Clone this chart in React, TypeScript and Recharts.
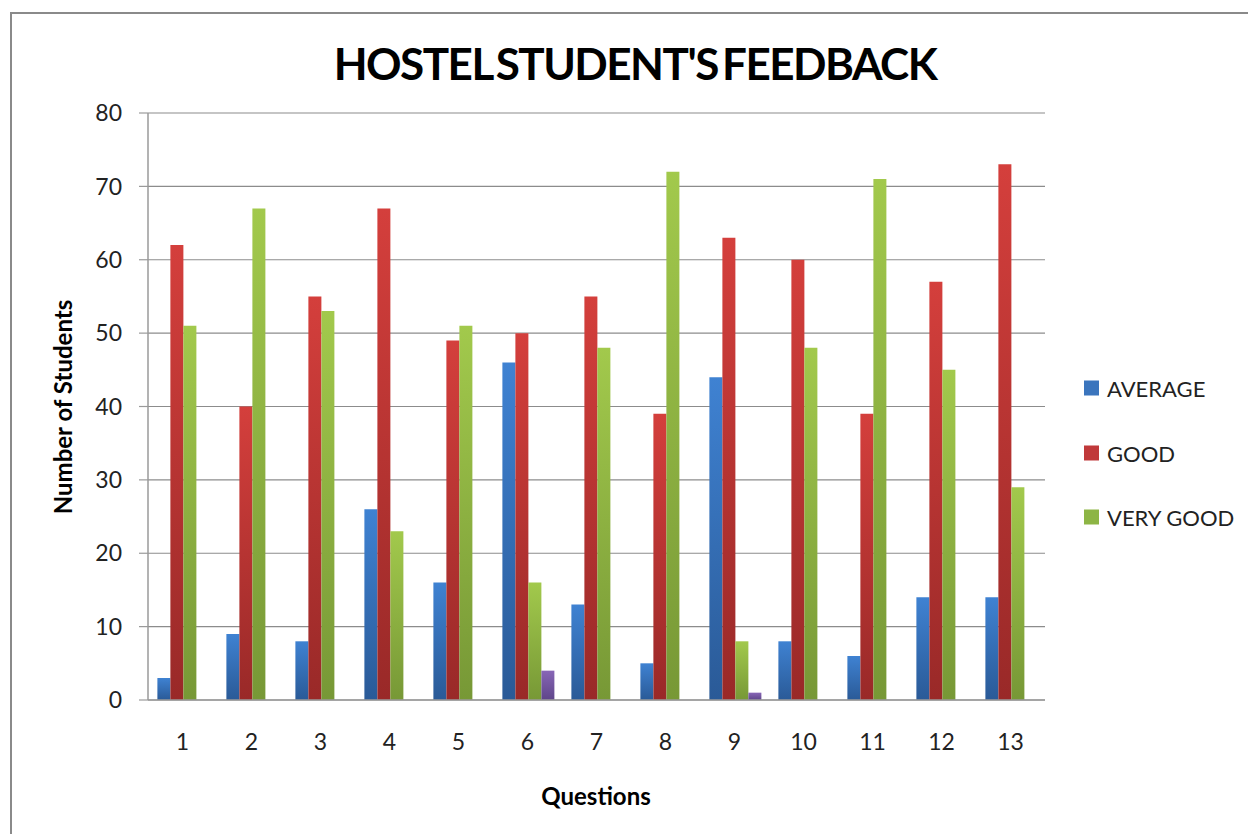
import React from 'react';
import { BarChart, Bar, XAxis, YAxis, CartesianGrid } from 'recharts';

const questions = ['1', '2', '3', '4', '5', '6', '7', '8', '9', '10', '11', '12', '13'];
const average = [3, 9, 8, 26, 16, 46, 13, 5, 44, 8, 6, 14, 14];
const good = [62, 40, 55, 67, 49, 50, 55, 39, 63, 60, 39, 57, 73];
const veryGood = [51, 67, 53, 23, 51, 16, 48, 72, 8, 48, 71, 45, 29];
const poor = [0, 0, 0, 0, 0, 4, 0, 0, 1, 0, 0, 0, 0];
const yTicks = [0, 10, 20, 30, 40, 50, 60, 70, 80];
const legendNames = ['AVERAGE', 'GOOD', 'VERY GOOD'];
const legendColors = ['#3b75bd', '#c0393a', '#8db545'];

const data = questions.map((q, i) => ({
  q,
  AVERAGE: average[i],
  GOOD: good[i],
  'VERY GOOD': veryGood[i],
  POOR: poor[i],
}));

const FONT = 'Lato, "Open Sans", sans-serif';

export default function App() {
  return (
    <div style={{ position: 'absolute', left: 0, top: 0, width: 1248, height: 834, background: '#fff', overflow: 'hidden' }}>
      <div
        style={{
          position: 'absolute',
          left: 10,
          top: 12,
          width: 1260,
          height: 840,
          border: '2px solid #8a8a8a',
          boxSizing: 'border-box',
        }}
      />
      <div
        style={{
          position: 'absolute',
          left: 0,
          width: 1270,
          top: 37,
          textAlign: 'center',
          fontFamily: FONT,
          fontWeight: 700,
          fontSize: 44,
          letterSpacing: -1.5,
          wordSpacing: -5,
          color: '#000',
        }}
      >
        HOSTEL STUDENT'S FEEDBACK
      </div>
      <div
        style={{
          position: 'absolute',
          left: 62,
          top: 407,
          transform: 'translate(-50%, -50%) rotate(-90deg)',
          whiteSpace: 'nowrap',
          fontFamily: FONT,
          fontWeight: 700,
          fontSize: 24,
          color: '#000',
        }}
      >
        Number of Students
      </div>
      <div
        style={{
          position: 'absolute',
          left: 596,
          top: 795,
          transform: 'translate(-50%, -50%)',
          whiteSpace: 'nowrap',
          fontFamily: FONT,
          fontWeight: 700,
          fontSize: 24,
          color: '#000',
        }}
      >
        Questions
      </div>
      <div style={{ position: 'absolute', left: 1084, top: 0, fontFamily: FONT, fontSize: 22, color: '#222' }}>
        {legendNames.map((name, i) => (
          <div
            key={name}
            style={{ position: 'absolute', left: 0, top: 388 + i * 64.5, transform: 'translateY(-50%)', display: 'flex', alignItems: 'center', whiteSpace: 'nowrap' }}
          >
            <div style={{ width: 15, height: 15, background: legendColors[i], marginRight: 8 }} />
            <span>{name}</span>
          </div>
        ))}
      </div>
      <div style={{ position: 'absolute', left: 0, top: 0 }}>
        <BarChart
          width={1248}
          height={834}
          data={data}
          margin={{ top: 113, right: 203, bottom: 74, left: 68 }}
          barCategoryGap="13.6%"
          barGap={0}
        >
          <defs>
            <linearGradient id="gBlue" x1="0" y1="0" x2="0" y2="1">
              <stop offset="0%" stopColor="#3f82d2" />
              <stop offset="100%" stopColor="#2a5a97" />
            </linearGradient>
            <linearGradient id="gRed" x1="0" y1="0" x2="0" y2="1">
              <stop offset="0%" stopColor="#d43f3c" />
              <stop offset="100%" stopColor="#992928" />
            </linearGradient>
            <linearGradient id="gGreen" x1="0" y1="0" x2="0" y2="1">
              <stop offset="0%" stopColor="#a2c94c" />
              <stop offset="100%" stopColor="#779836" />
            </linearGradient>
            <linearGradient id="gPurple" x1="0" y1="0" x2="0" y2="1">
              <stop offset="0%" stopColor="#8866b6" />
              <stop offset="100%" stopColor="#5e4589" />
            </linearGradient>
          </defs>
          <CartesianGrid vertical={false} stroke="#8c8c8c" strokeWidth={1.2} />
          <XAxis
            dataKey="q"
            height={60}
            tickLine={false}
            tickSize={0}
            tickMargin={34}
            axisLine={{ stroke: '#9a9a9a', strokeWidth: 1.5 }}
            tick={{ fontFamily: FONT, fontSize: 23, fill: '#222' }}
          />
          <YAxis
            width={80}
            domain={[0, 80]}
            ticks={yTicks}
            interval={0}
            tickSize={9}
            tickMargin={17}
            tickLine={{ stroke: '#9a9a9a', strokeWidth: 1.2 }}
            axisLine={{ stroke: '#9a9a9a', strokeWidth: 1.5 }}
            tick={{ fontFamily: FONT, fontSize: 23, fill: '#222' }}
          />
          <Bar dataKey="AVERAGE" fill="url(#gBlue)" isAnimationActive={false} />
          <Bar dataKey="GOOD" fill="url(#gRed)" isAnimationActive={false} />
          <Bar dataKey="VERY GOOD" fill="url(#gGreen)" isAnimationActive={false} />
          <Bar dataKey="POOR" fill="url(#gPurple)" isAnimationActive={false} />
        </BarChart>
      </div>
    </div>
  );
}
